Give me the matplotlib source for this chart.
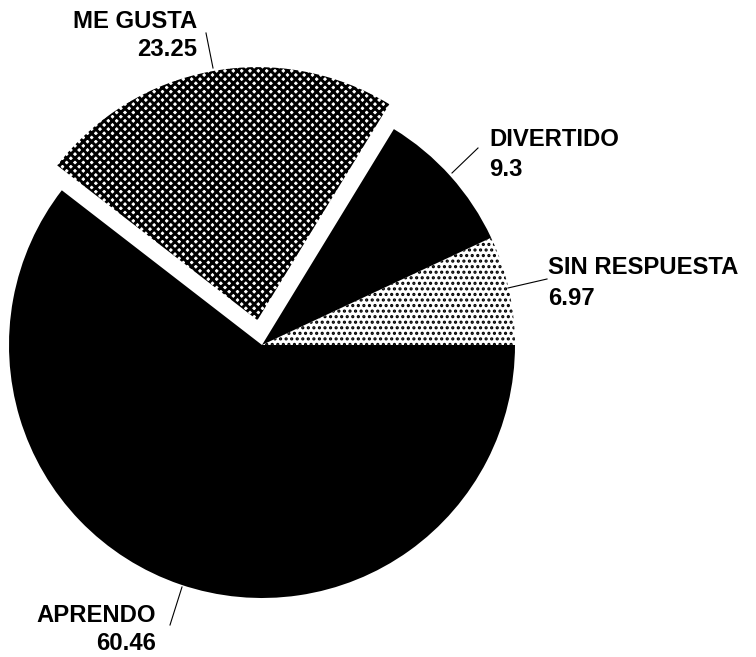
import matplotlib
matplotlib.use("Agg")
import matplotlib.pyplot as plt
from matplotlib.lines import Line2D

plt.rcParams['hatch.linewidth'] = 1.5

labels = ["SIN RESPUESTA", "DIVERTIDO", "ME GUSTA", "APRENDO"]
values = [6.97, 9.3, 23.25, 60.46]
value_text = ["6.97", "9.3", "23.25", "60.46"]
explode = [0, 0, 0.1, 0]

W, H = 756, 657
fig = plt.figure(figsize=(W / 100, H / 100), dpi=100)
ax = fig.add_axes([0, 0, 1, 1])

R = 253.0
cx, cy = 262.0, 345.0  # pixel center (from top)

wedges, _ = ax.pie(values, startangle=0, counterclock=True, explode=explode,
                   radius=1.0, wedgeprops=dict(linewidth=0))
styles = [
    dict(face="white", edge="black", hatch="...", hlw=1.5),
    dict(face="black", edge="black", hatch=None, hlw=None),
    dict(face="white", edge="black", hatch="xxxx", hlw=2.1),
    dict(face="black", edge="black", hatch=None, hlw=None),
]
for w, s in zip(wedges, styles):
    w.set_facecolor(s["face"])
    w.set_edgecolor(s["edge"])
    w.set_linewidth(0)
    if s["hatch"]:
        w.set_hatch(s["hatch"])
        if hasattr(w, "set_hatch_linewidth"):
            w.set_hatch_linewidth(s["hlw"])

ax.set_aspect("auto")
ax.set_xlim(-cx / R, (W - cx) / R)
ax.set_ylim(-(H - cy) / R, cy / R)
ax.axis("off")

font = dict(family="Liberation Sans", fontweight="bold", fontsize=17.2, color="black")

def ftext(x, y, s, ha):
    fig.text(x / W, 1 - y / H, s, ha=ha, va="center", **font)

def fline(x0, y0, x1, y1):
    fig.add_artist(Line2D([x0 / W, x1 / W], [1 - y0 / H, 1 - y1 / H],
                          transform=fig.transFigure, color="black", lw=0.8))

# ME GUSTA
ftext(197, 21, labels[2], "right")
ftext(197, 49, value_text[2], "right")
fline(206, 33, 213, 68)
# DIVERTIDO
ftext(489, 139, labels[1], "left")
ftext(489, 169, value_text[1], "left")
fline(478, 148, 452, 173)
# SIN RESPUESTA
ftext(548, 268, labels[0], "left")
ftext(548, 299, value_text[0], "left")
fline(547, 279, 508, 288)
# APRENDO
ftext(156, 615, labels[3], "right")
ftext(156, 644, value_text[3], "right")
fline(182, 587, 170, 625)

fig.savefig("out.png", dpi=100)
